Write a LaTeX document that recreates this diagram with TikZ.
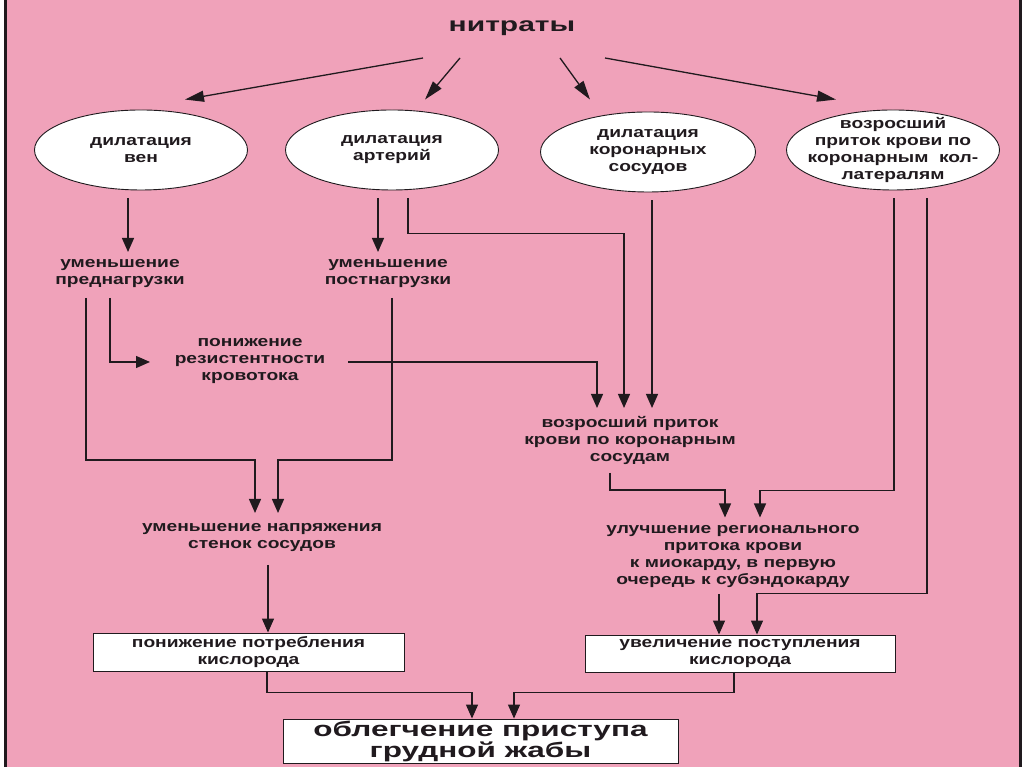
\documentclass[tikz,border=0pt]{standalone}
\usepackage{fontspec}
\setmainfont{Liberation Sans}[FakeStretch=1.28]
\newfontfamily\widefont{Liberation Sans}[FakeStretch=1.5]
\usetikzlibrary{arrows.meta, shapes.geometric}
\definecolor{bgpink}{RGB}{240,162,186}
\definecolor{ink}{RGB}{32,26,30}

\begin{document}
\begin{tikzpicture}[x=1pt, y=1pt, color=ink, line width=1.3pt, oval node/.style={ellipse, draw, fill=white, line width=0.9pt, minimum width=213pt, minimum height=80pt, inner sep=-20pt, align=center, font=\bfseries\fontsize{15}{17}\selectfont}, text node/.style={align=center, inner sep=1pt, font=\bfseries\fontsize{15}{17}\selectfont}, box node/.style={rectangle, draw, fill=white, line width=0.9pt, minimum height=38pt, inner sep=0pt, align=center, font=\bfseries\fontsize{15}{17}\selectfont}, arr/.style={-{Triangle[length=14pt,width=12pt]}}, long arr/.style={-{Triangle[length=19pt,width=11pt]}}] %page kept at the size of the scan, 1pt per pixel
\useasboundingbox (0,0) rectangle (1024,767);
\fill[white] (0,0) rectangle (1024,767);
\fill[bgpink] (5,0) rectangle (1020,767);
\draw[line width=3pt] (5.5,0) -- (5.5,767);
\draw[line width=3pt] (1020,0) -- (1020,767);

\node[font=\widefont\bfseries\fontsize{20}{22}\selectfont](nitr) at (512,739){нитраты};
\node[oval node](vein) at (141,617){дилатация\\вен};
\node[oval node](art) at (392,617){дилатация\\артерий};
\node[oval node, minimum width=215pt](cor) at (648,615){дилатация\\коронарных\\сосудов};
\node[oval node](coll) at (893,617){возросший\\приток крови по\\коронарным\ \ кол-\\латералям};

\node[text node](pre) at (120,493){уменьшение\\преднагрузки};
\node[text node](post) at (388,493){уменьшение\\постнагрузки};
\node[text node](resist) at (250,406){понижение\\резистентности\\кровотока};
\node[text node](inflow) at (630,327){возросший приток\\крови по коронарным\\сосудам};
\node[text node](tension) at (262,229){уменьшение напряжения\\стенок сосудов};
\node[text node](region) at (733,210.5){улучшение регионального\\притока крови\\к миокарду, в первую\\очередь к субэндокарду};

\node[box node, minimum width=311pt](consume) at (248.5,115){понижение потребления\\кислорода};
\node[box node, minimum width=310pt, minimum height=37pt](supply) at (740,113.5){увеличение поступления\\кислорода};
\node[box node, minimum width=395pt, minimum height=44pt, font=\widefont\bfseries\fontsize{21}{15}\selectfont](relief) at (480.5,26){облегчение приступа\\грудной жабы};

% from the nitrates
\draw[long arr] ([xshift=-89,yshift=-30]nitr.center) -- ([xshift=44,yshift=10]vein.north);
\draw[long arr] ([xshift=-52,yshift=-30]nitr.center) -- ([xshift=33,yshift=10]art.north);
\draw[long arr] ([xshift=48,yshift=-30]nitr.center) -- ([xshift=-58,yshift=12]cor.north);
\draw[long arr] ([xshift=93,yshift=-30]nitr.center) -- ([xshift=-57,yshift=10]coll.north);

% left side
\draw[arr] ([xshift=-13,yshift=-8]vein.south) -- ([xshift=8,yshift=22]pre.center);
\draw[arr] ([xshift=-14,yshift=-8]art.south) -- ([xshift=-10,yshift=22]post.center);
\draw[arr] ([xshift=-10,yshift=-24]pre.center) |- ([xshift=-100,yshift=-1]resist.center);
\draw[arr] ([xshift=-34,yshift=-24]pre.center) -- ++(0,-162) -| ([xshift=-7,yshift=25]tension.center);
\draw[arr] ([xshift=4,yshift=-24]post.center) -- ++(0,-162) -| ([xshift=16,yshift=25]tension.center);
\draw[arr] ([xshift=6,yshift=-27]tension.center) -- ([xshift=19.5]consume.north);

% right side
\draw[arr] ([xshift=16,yshift=-8]art.south) -- ++(0,-35) -| ([xshift=-6,yshift=32]inflow.center);
\draw[arr] ([xshift=4,yshift=-8]cor.south) -- ([xshift=22,yshift=32]inflow.center);
\draw[arr] ([xshift=98,yshift=-1]resist.center) -| ([xshift=-33,yshift=32]inflow.center);
\draw[arr] ([xshift=-20,yshift=-33]inflow.center) -- ++(0,-17) -| ([xshift=-8,yshift=39]region.center);
\draw[arr] ([xshift=1,yshift=-8]coll.south) -- ++(0,-292) -| ([xshift=27,yshift=39]region.center);
\draw[arr] ([xshift=34,yshift=-8]coll.south) -- ++(0,-395) -| ([xshift=17]supply.north);
\draw[arr] ([xshift=-14,yshift=-38]region.center) -- ([xshift=-21]supply.north);

% into the last box
\draw[arr] ([xshift=18.5]consume.south) -- ++(0,-21) -| ([xshift=-8.5]relief.north);
\draw[arr] ([xshift=-6]supply.south) -- ++(0,-20) -| ([xshift=33.5]relief.north);
\end{tikzpicture}
\end{document}
